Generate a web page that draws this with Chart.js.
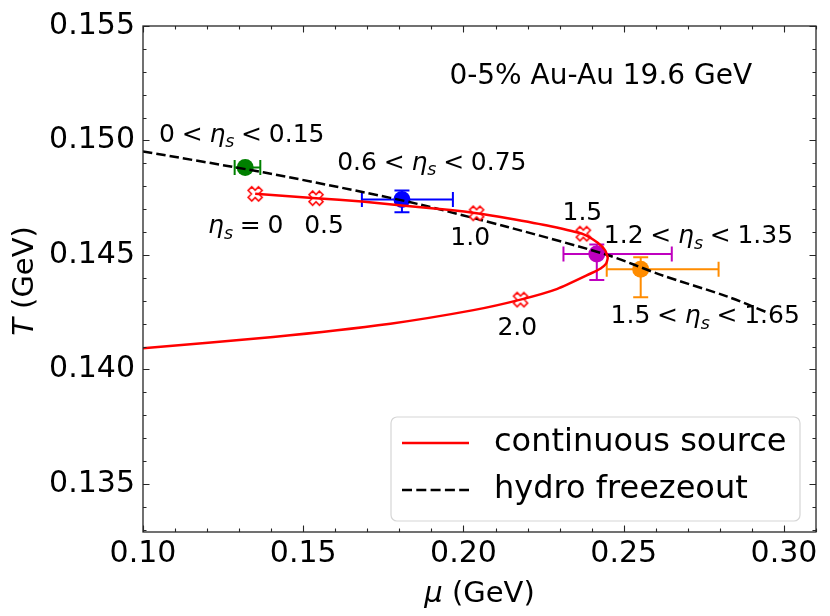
<!DOCTYPE html>
<html>
<head>
<meta charset="utf-8">
<script src="https://cdn.jsdelivr.net/npm/chart.js@4.4.0/dist/chart.umd.min.js"></script>
<style>
  html, body { margin: 0; padding: 0; background: #fff; }
  #wrap { width: 830px; height: 616px; }
</style>
</head>
<body>
<div id="wrap"><canvas id="chart" width="830" height="616"></canvas></div>
<script>
// continuous source curve, from eta_s = 0 round the turning point to the left edge
var sourceMu = [0.1350, 0.1540, 0.1683, 0.1808, 0.1959, 0.2041, 0.2138, 0.2272, 0.2375, 0.2419,
                0.2442, 0.2450, 0.2445, 0.2428, 0.2397, 0.2293, 0.2178, 0.2031, 0.1772, 0.1406, 0.1000];
var sourceT  = [0.14767, 0.14748, 0.14734, 0.14716, 0.14696, 0.14682, 0.14660, 0.14625, 0.14590, 0.14553,
                0.14520, 0.14488, 0.14462, 0.14441, 0.14419, 0.14352, 0.14305, 0.14259, 0.14200, 0.14142, 0.14093];

// eta_s markers on the source curve
var etaLabels = ['0', '0.5', '1.0', '1.5', '2.0'];
var etaMu = [0.1350, 0.1540, 0.2041, 0.2374, 0.2178];
var etaT  = [0.14767, 0.14748, 0.14682, 0.14593, 0.14305];

// hydro freezeout curve
var hydroMu = [0.1000, 0.1375, 0.1688, 0.1856, 0.2138, 0.2449, 0.2616, 0.2824, 0.2953];
var hydroT  = [0.14952, 0.14861, 0.14774, 0.14723, 0.14622, 0.14500, 0.14413, 0.14318, 0.14246];

// rapidity bins with errors
var binNames  = ['0 < eta < 0.15', '0.6 < eta < 0.75', '1.2 < eta < 1.35', '1.5 < eta < 1.65'];
var binColors = ['#008000', '#0000ff', '#bf00bf', '#ff8c00'];
var binMu   = [0.1319, 0.1808, 0.2416, 0.2553];
var binT    = [0.14882, 0.14742, 0.14504, 0.14438];
var binMuLo = [0.0033, 0.0125, 0.0104, 0.0106];
var binMuHi = [0.0047, 0.0159, 0.0234, 0.0243];
var binTLo  = [0.0000, 0.00055, 0.00113, 0.00123];
var binTHi  = [0.0000, 0.00039, 0.00042, 0.00052];

// axis ticks
var xMajor = [0.10, 0.15, 0.20, 0.25, 0.30];
var yMajor = [0.135, 0.140, 0.145, 0.150, 0.155];

var FONT = '"DejaVu Sans", sans-serif';

function pts(xs, ys) {
  return xs.map(function(x, i) { return {x: x, y: ys[i]}; });
}

// filled X marker like matplotlib 'X'
function makeXMarker() {
  var c = document.createElement('canvas');
  c.width = 22; c.height = 22;
  var g = c.getContext('2d');
  g.translate(11, 11);
  g.rotate(Math.PI / 4);
  var L = 7.4, w = 2.6;
  g.beginPath();
  g.moveTo(-w, -L); g.lineTo(w, -L); g.lineTo(w, -w); g.lineTo(L, -w);
  g.lineTo(L, w); g.lineTo(w, w); g.lineTo(w, L); g.lineTo(-w, L);
  g.lineTo(-w, w); g.lineTo(-L, w); g.lineTo(-L, -w); g.lineTo(-w, -w);
  g.closePath();
  g.fillStyle = '#fff';
  g.fill();
  g.lineWidth = 1.5;
  g.strokeStyle = '#ff0000';
  g.stroke();
  return c;
}

// mixed text: parts {t, it, sub, rel}
function drawRich(ctx, parts, x, cy, size, align) {
  var items = parts.map(function(p) {
    var s = p.sub ? size * 0.7 : size;
    var f = (p.it ? 'italic ' : '') + s + 'px ' + FONT;
    ctx.font = f;
    return {p: p, f: f, w: ctx.measureText(p.t).width, pad: p.rel ? size * 0.27 : 0};
  });
  var total = 0;
  items.forEach(function(it) { total += it.w + 2 * it.pad; });
  var cx = align === 'center' ? x - total / 2 : x;
  var base = cy + 0.365 * size;
  ctx.textBaseline = 'alphabetic';
  ctx.textAlign = 'left';
  items.forEach(function(it) {
    cx += it.pad;
    ctx.font = it.f;
    ctx.fillText(it.p.t, cx, base + (it.p.sub ? size * 0.22 : 0));
    cx += it.w + it.pad;
  });
  return total;
}

function etaRange(lo, hi) {
  return [{t: lo}, {t: '<', rel: true}, {t: 'η', it: true}, {t: 's', it: true, sub: true},
          {t: '<', rel: true}, {t: hi}];
}

// annotations, left edge and vertical centre in data units
var notes = [
  {parts: [{t: '0-5% Au-Au 19.6 GeV'}], mu: 0.1956, T: 0.15291, size: 28},
  {parts: etaRange('0', '0.15'), mu: 0.1050, T: 0.15034, size: 25},
  {parts: etaRange('0.6', '0.75'), mu: 0.1606, T: 0.14913, size: 25},
  {parts: etaRange('1.2', '1.35'), mu: 0.2438, T: 0.14592, size: 25},
  {parts: etaRange('1.5', '1.65'), mu: 0.2459, T: 0.14242, size: 25},
  {parts: [{t: 'η', it: true}, {t: 's', it: true, sub: true}, {t: '=', rel: true}, {t: etaLabels[0]}], mu: 0.1203, T: 0.14635, size: 25},
  {parts: [{t: etaLabels[1]}], mu: 0.1503, T: 0.14635, size: 25},
  {parts: [{t: etaLabels[2]}], mu: 0.1959, T: 0.14584, size: 25},
  {parts: [{t: etaLabels[3]}], mu: 0.2309, T: 0.14692, size: 25},
  {parts: [{t: etaLabels[4]}], mu: 0.2106, T: 0.14190, size: 25}
];

var errorBarPlugin = {
  id: 'errorBars',
  beforeDatasetDraw: function(chart, args) {
    var ds = chart.data.datasets[args.index];
    if (ds.binIndex === undefined) return;
    var i = ds.binIndex;
    var ctx = chart.ctx, xs = chart.scales.x, ys = chart.scales.y;
    var px = xs.getPixelForValue(binMu[i]), py = ys.getPixelForValue(binT[i]);
    var x0 = xs.getPixelForValue(binMu[i] - binMuLo[i]), x1 = xs.getPixelForValue(binMu[i] + binMuHi[i]);
    var y0 = ys.getPixelForValue(binT[i] + binTHi[i]), y1 = ys.getPixelForValue(binT[i] - binTLo[i]);
    var cap = 7.5;
    ctx.save();
    ctx.strokeStyle = binColors[i];
    ctx.lineWidth = 2;
    ctx.beginPath();
    ctx.moveTo(x0, py); ctx.lineTo(x1, py);
    ctx.moveTo(x0, py - cap); ctx.lineTo(x0, py + cap);
    ctx.moveTo(x1, py - cap); ctx.lineTo(x1, py + cap);
    if (y1 - y0 > 1) {
      ctx.moveTo(px, y0); ctx.lineTo(px, y1);
      ctx.moveTo(px - cap, y0); ctx.lineTo(px + cap, y0);
      ctx.moveTo(px - cap, y1); ctx.lineTo(px + cap, y1);
    }
    ctx.stroke();
    ctx.restore();
  }
};

var framePlugin = {
  id: 'frame',
  afterDraw: function(chart) {
    var ctx = chart.ctx, a = chart.chartArea, xs = chart.scales.x, ys = chart.scales.y;
    ctx.save();
    ctx.fillStyle = '#000';
    // annotations
    notes.forEach(function(n) {
      drawRich(ctx, n.parts, xs.getPixelForValue(n.mu), ys.getPixelForValue(n.T), n.size, 'left');
    });

    // legend
    var lx = a.left + 248, ly = a.top + 391, lw = 409, lh = 104, r = 6;
    ctx.globalAlpha = 0.8;
    ctx.fillStyle = '#fff';
    ctx.beginPath();
    ctx.roundRect(lx, ly, lw, lh, r);
    ctx.fill();
    ctx.globalAlpha = 1;
    ctx.strokeStyle = '#d6d6d6';
    ctx.lineWidth = 1.2;
    ctx.stroke();
    ctx.lineWidth = 2.5;
    ctx.strokeStyle = '#ff0000';
    ctx.beginPath(); ctx.moveTo(lx + 11, ly + 26); ctx.lineTo(lx + 78, ly + 26); ctx.stroke();
    ctx.strokeStyle = '#000';
    ctx.setLineDash([10, 4.3]);
    ctx.beginPath(); ctx.moveTo(lx + 11, ly + 73); ctx.lineTo(lx + 78, ly + 73); ctx.stroke();
    ctx.setLineDash([]);
    ctx.fillStyle = '#000';
    ctx.font = '32px ' + FONT;
    ctx.textAlign = 'left';
    ctx.textBaseline = 'middle';
    ctx.fillText('continuous source', lx + 103, ly + 26);
    ctx.fillText('hydro freezeout', lx + 103, ly + 73);

    // frame
    ctx.strokeStyle = '#262626';
    ctx.lineWidth = 1.3;
    ctx.strokeRect(a.left, a.top, a.right - a.left, a.bottom - a.top);

    // inward ticks on all sides
    ctx.lineWidth = 1.1;
    function tickX(v, len) {
      var p = Math.round(xs.getPixelForValue(v)) + 0.5;
      ctx.beginPath();
      ctx.moveTo(p, a.bottom); ctx.lineTo(p, a.bottom - len);
      ctx.moveTo(p, a.top); ctx.lineTo(p, a.top + len);
      ctx.stroke();
    }
    function tickY(v, len) {
      var p = Math.round(ys.getPixelForValue(v)) + 0.5;
      ctx.beginPath();
      ctx.moveTo(a.left, p); ctx.lineTo(a.left + len, p);
      ctx.moveTo(a.right, p); ctx.lineTo(a.right - len, p);
      ctx.stroke();
    }
    for (var k = 10; k <= 31; k++) tickX(k / 100, k % 5 === 0 ? 6.5 : 3.5);
    for (var m = 133; m <= 155; m++) tickY(m / 1000, m % 5 === 0 ? 6.5 : 3.5);

    // axis titles
    ctx.fillStyle = '#000';
    drawRich(ctx, [{t: 'μ', it: true}, {t: ' (GeV)'}], (a.left + a.right) / 2, 591, 29, 'center');
    ctx.translate(22, (a.top + a.bottom) / 2 + 2);
    ctx.rotate(-Math.PI / 2);
    drawRich(ctx, [{t: 'T', it: true}, {t: ' (GeV)'}], 0, 0, 29, 'center');
    ctx.restore();
  }
};

var ctx = document.getElementById('chart').getContext('2d');

var datasets = [
  {
    label: 'continuous source',
    data: pts(sourceMu, sourceT),
    showLine: true,
    borderColor: '#ff0000',
    borderWidth: 2.5,
    tension: 0.18,
    pointRadius: 0
  },
  {
    label: 'eta markers',
    data: pts(etaMu, etaT),
    showLine: false,
    pointStyle: makeXMarker(),
    pointRadius: 8
  },
  {
    label: 'hydro freezeout',
    data: pts(hydroMu, hydroT),
    showLine: true,
    borderColor: '#000',
    borderWidth: 2.5,
    borderDash: [9.5, 4],
    tension: 0.3,
    pointRadius: 0
  }
];
binMu.forEach(function(mu, i) {
  datasets.push({
    label: binNames[i],
    binIndex: i,
    data: [{x: mu, y: binT[i]}],
    showLine: false,
    pointRadius: 8.5,
    pointBackgroundColor: binColors[i],
    pointBorderColor: binColors[i],
    pointBorderWidth: 0
  });
});

var tickFont = {family: FONT, size: 30};

new Chart(ctx, {
  type: 'scatter',
  data: {datasets: datasets},
  options: {
    responsive: false,
    animation: false,
    devicePixelRatio: 1,
    layout: {padding: {top: 22, right: 14, left: 0, bottom: 0}},
    plugins: {legend: {display: false}, tooltip: {enabled: false}},
    scales: {
      x: {
        type: 'linear', min: 0.10, max: 0.31,
        afterFit: function(s) { s.height = 84; },
        afterBuildTicks: function(s) { s.ticks = xMajor.map(function(v) { return {value: v}; }); },
        grid: {display: false, drawTicks: false},
        border: {display: false},
        ticks: {padding: 4, color: '#000', font: tickFont, maxRotation: 0, autoSkip: false,
                callback: function(v) { return Number(v).toFixed(2); }}
      },
      y: {
        type: 'linear', min: 0.1329, max: 0.155,
        afterFit: function(s) { s.width = 143; },
        afterBuildTicks: function(s) { s.ticks = yMajor.map(function(v) { return {value: v}; }); },
        grid: {display: false, drawTicks: false},
        border: {display: false},
        ticks: {padding: 8, color: '#000', font: tickFont, autoSkip: false,
                callback: function(v) { return Number(v).toFixed(3); }}
      }
    }
  },
  plugins: [errorBarPlugin, framePlugin]
});
</script>
</body>
</html>
